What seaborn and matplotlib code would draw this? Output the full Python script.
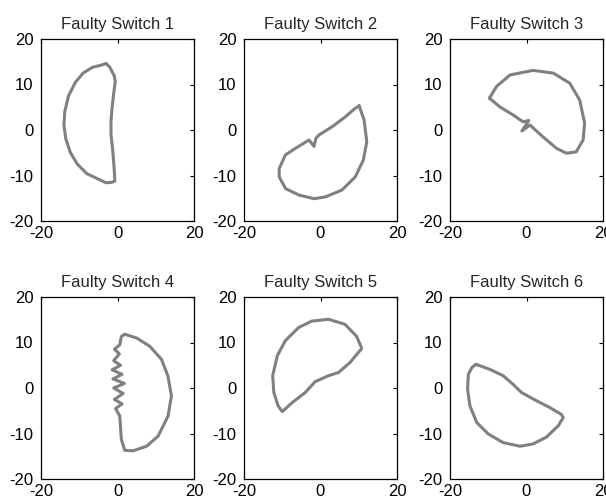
import matplotlib
matplotlib.use("Agg")
import matplotlib.pyplot as plt
import seaborn as sns
import pandas as pd

titles = ["Faulty Switch 1", "Faulty Switch 2", "Faulty Switch 3",
          "Faulty Switch 4", "Faulty Switch 5", "Faulty Switch 6"]

s1_x = [-3.0, -2.0, -0.8, -0.6, -1.0, -1.4, -1.7, -1.7, -1.3, -1.0, -0.8, -0.7, -1.5, -3.0,
        -5.5, -8.0, -10.5, -12.3, -13.5, -14.0, -13.8, -12.8, -11.0, -9.0, -6.5, -4.5, -3.0]
s1_y = [14.6, 13.8, 11.8, 10.5, 8.0, 5.0, 2.0, -1.0, -4.0, -7.0, -9.5, -11.2, -11.5, -11.6,
        -10.6, -9.6, -7.5, -5.0, -2.0, 1.0, 4.0, 7.5, 10.5, 12.5, 13.8, 14.2, 14.6]

s2_x = [10.1, 11.4, 12.1, 11.2, 9.1, 5.6, 1.3, -1.7, -5.6, -9.1, -10.8, -10.8, -9.2, -6.5,
        -3.0, -1.7, -1.2, -0.4, 3.0, 6.5, 9.1, 10.1]
s2_y = [5.3, 2.2, -2.6, -6.6, -10.3, -13.2, -14.7, -15.1, -14.3, -12.9, -10.3, -8.5, -5.5, -4.0,
        -2.2, -3.6, -1.8, -1.1, 0.7, 2.9, 4.8, 5.3]

s3_x = [-9.7, -7.8, -4.3, 1.7, 7.0, 11.3, 13.9, 15.2, 14.8, 13.0, 10.4, 7.8, 4.3, 0.9,
        -1.2, 0.6, -0.9, -3.5, -7.0, -9.7]
s3_y = [7.0, 9.6, 12.1, 13.1, 12.5, 10.3, 6.6, 1.5, -2.2, -4.8, -5.1, -4.0, -1.5, 1.1,
        -0.2, 2.1, 1.8, 3.3, 5.1, 7.0]

s4_x = [1.9, 5.0, 8.4, 11.5, 13.2, 14.1, 13.2, 10.6, 7.6, 4.1, 1.9, 1.0, 0.6, -0.5, 1.2,
        -0.8, 1.5, -1.0, 1.8, -1.2, 1.2, -1.4, 0.8, -1.0, 0.5, -0.8, 0.6, 1.0, 1.9]
s4_y = [11.8, 11.0, 9.2, 6.3, 2.6, -1.8, -6.2, -10.6, -12.8, -13.8, -13.7, -11.3, -6.2, -4.5, -3.5,
        -2.5, -1.2, 0.0, 1.0, 2.0, 3.0, 4.0, 5.0, 6.0, 7.5, 8.5, 9.5, 11.3, 11.8]

s5_x = [10.7, 9.4, 6.4, 2.1, -2.3, -5.7, -9.2, -11.3, -12.5, -12.2, -11.1, -10.0, -7.4, -4.0,
        -1.4, 2.1, 4.7, 7.7, 10.7]
s5_y = [8.9, 11.4, 14.0, 15.1, 14.7, 13.3, 10.4, 7.1, 2.7, -1.0, -3.9, -5.2, -3.2, -1.0,
        1.4, 2.7, 3.4, 5.6, 8.6]

s6_x = [-13.2, -9.6, -6.1, -3.5, -1.3, 2.6, 6.1, 9.1, 9.6, 8.3, 5.2, 1.7, -1.7, -6.1, -10.0,
        -13.0, -14.8, -15.4, -15.2, -14.3, -13.2]
s6_y = [5.2, 4.1, 2.7, 0.8, -1.0, -2.8, -4.3, -5.8, -6.5, -8.3, -10.8, -12.3, -12.8, -12.0, -10.1,
        -7.6, -3.9, -0.3, 3.0, 4.5, 5.2]

series = [(s1_x, s1_y), (s2_x, s2_y), (s3_x, s3_y), (s4_x, s4_y), (s5_x, s5_y), (s6_x, s6_y)]

x_ticks = [-20, 0, 20]
y_ticks = [-20, -10, 0, 10, 20]

sns.set_style("white")
plt.rcParams["font.family"] = ["Liberation Sans", "DejaVu Sans"]

fig = plt.figure(figsize=(6.06, 5.03), dpi=100)
lefts = [41 / 606, 244 / 606, 450 / 606]
bottoms = [1 - 221 / 503, 1 - 479 / 503]
w = 153 / 606
h = 182 / 503

for i, (title, (xs, ys)) in enumerate(zip(titles, series)):
    r, c = divmod(i, 3)
    ax = fig.add_axes([lefts[c], bottoms[r], w, h])
    df = pd.DataFrame({"x": xs, "y": ys})
    sns.lineplot(data=df, x="x", y="y", sort=False, estimator=None, ax=ax,
                 color="#808080", linewidth=2.2)
    ax.set_xlim(-20, 20)
    ax.set_ylim(-20, 20)
    ax.set_xticks(x_ticks)
    ax.set_yticks(y_ticks)
    ax.set_xticklabels([str(t) for t in x_ticks])
    ax.set_yticklabels([str(t) for t in y_ticks])
    ax.set_xlabel("")
    ax.set_ylabel("")
    ax.tick_params(direction="in", length=3, width=0.8, labelsize=12,
                   top=True, right=True, colors="black")
    ax.tick_params(axis="x", pad=3.5)
    ax.tick_params(axis="y", pad=5.5)
    for sp in ax.spines.values():
        sp.set_color("black")
        sp.set_linewidth(0.9)
    ax.set_title(title, fontsize=12, pad=7.5)

fig.savefig("out.png", dpi=100)
